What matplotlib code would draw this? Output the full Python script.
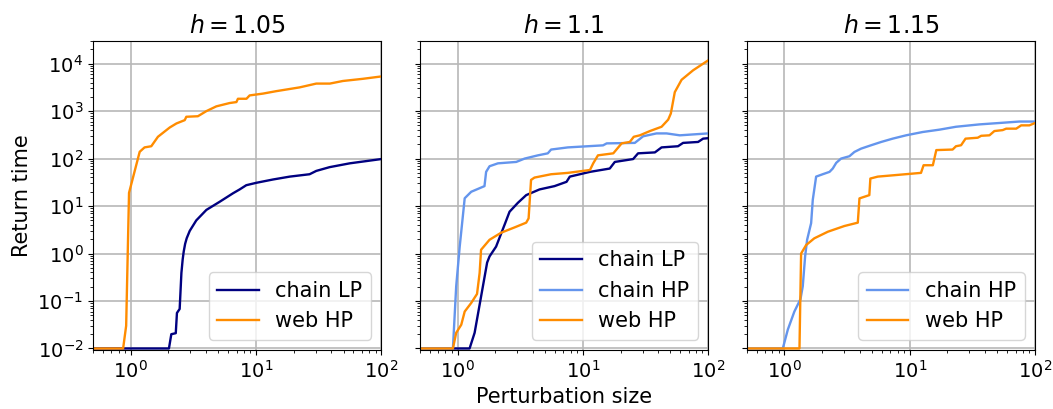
import matplotlib
matplotlib.use("Agg")
import matplotlib.pyplot as plt

# Return time vs. perturbation size for three values of h
titles = [r"$h = 1.05$", r"$h = 1.1$", r"$h = 1.15$"]

# h = 1.05
h105_chainLP_x = [0.5, 2.02, 2.11, 2.29, 2.34, 2.46, 2.54, 2.60, 2.65, 2.72, 2.80, 2.96, 3.34,
                  4.02, 5.13, 6.56, 7.41, 8.37, 10.07, 13.7, 18.6, 26.8, 30.3, 38.7, 56, 100]
h105_chainLP_y = [0.01, 0.01, 0.02, 0.021, 0.056, 0.068, 0.39, 0.75, 1.1, 1.6, 2.1, 3.0, 5.0,
                  8.3, 12.3, 18.6, 22.4, 27.5, 30.9, 36.3, 41.7, 46.8, 55, 66, 79.4, 97.7]
h105_webHP_x = [0.5, 0.87, 0.92, 0.97, 1.18, 1.29, 1.46, 1.65, 2.05, 2.32, 2.70, 2.78, 3.44,
                4.02, 4.83, 6.17, 6.98, 7.18, 8.4, 8.9, 11.4, 14.5, 22.3, 30.3, 38.9, 49.4,
                71.4, 100]
h105_webHP_y = [0.01, 0.01, 0.03, 19, 139, 172, 182, 288, 452, 550, 645, 760, 780,
                1000, 1260, 1480, 1550, 1820, 1820, 2140, 2340, 2630, 3160, 3800, 3800, 4310,
                4790, 5370]

# h = 1.1
h11_chainLP_x = [0.5, 1.247, 1.368, 1.542, 1.722, 1.80, 2.03, 2.40, 2.60, 3.03, 3.53, 4.51,
                 5.94, 7.41, 7.87, 11.4, 16.4, 18.0, 25.2, 27.6, 37.6, 42.5, 57.5, 63.1,
                 83.2, 91.2, 100]
h11_chainLP_y = [0.01, 0.01, 0.0214, 0.126, 0.646, 0.87, 1.40, 4.37, 7.6, 11.7, 17, 22.4,
                 26.3, 32.4, 41.7, 52.5, 61.7, 85, 97.7, 129, 135, 172, 182, 214,
                 224, 263, 269]
h11_chainHP_x = [0.5, 0.918, 0.975, 1.04, 1.14, 1.285, 1.64, 1.69, 1.80, 2.10, 2.94, 3.43,
                 4.38, 5.25, 5.58, 7.59, 14.5, 15.5, 26, 30.3, 38.7, 46.6, 59.4, 100]
h11_chainHP_y = [0.01, 0.01, 0.204, 1.40, 14.6, 20, 26.3, 52.5, 69, 79.4, 85, 100,
                 117, 129, 155, 172, 190, 209, 214, 295, 339, 339, 309, 339]
h11_webHP_x = [0.5, 0.918, 0.975, 1.07, 1.14, 1.285, 1.43, 1.50, 1.54, 1.80, 2.23, 2.85,
               3.53, 3.69, 3.86, 4.11, 5.58, 7.59, 11.4, 12.1, 13.2, 17.5, 20.4, 23.7,
               25.5, 28.5, 34.3, 42.5, 48, 50.4, 54.2, 61.4, 75.9, 100]
h11_webHP_y = [0.01, 0.01, 0.0214, 0.0316, 0.060, 0.091, 0.141, 0.39, 1.2, 1.95, 2.75, 3.55,
               4.47, 5.5, 35.5, 39.8, 46.8, 50, 57.5, 79.4, 117, 129, 209, 224,
               288, 309, 380, 468, 661, 891, 2510, 4570, 7240, 11700]

# h = 1.15
h115_chainHP_x = [0.5, 0.97, 1.064, 1.20, 1.343, 1.40, 1.462, 1.517, 1.633, 1.683, 1.79,
                  2.02, 2.29, 2.43, 2.59, 2.83, 3.30, 3.62, 4.09, 4.92, 5.92, 7.31, 9.35,
                  12.7, 17.3, 23.4, 36, 52, 75, 100]
h115_chainHP_y = [0.01, 0.01, 0.025, 0.060, 0.11, 0.204, 0.87, 1.95, 4.37, 13.5, 41.7,
                  46.8, 52.5, 61.7, 81.3, 100, 112, 138, 162, 191, 224, 263, 309,
                  363, 407, 468, 525, 562, 603, 603]
h115_webHP_x = [0.5, 1.318, 1.358, 1.49, 1.73, 2.22, 3.01, 3.85, 3.97, 4.76, 4.85, 5.56,
                7.55, 12.3, 12.9, 15.3, 16.3, 22.0, 23.4, 25.7, 27.9, 34.9, 37.2, 43.3,
                47.4, 55.2, 58.9, 70.8, 77.6, 90.2, 100]
h115_webHP_y = [0.01, 0.01, 1.0, 1.51, 2.09, 2.88, 3.80, 4.47, 14.5, 17, 38, 41.7,
                44.7, 50, 72.4, 72.4, 151, 155, 182, 191, 263, 275, 302, 309,
                380, 398, 427, 427, 501, 501, 562]

colors = {"chain LP": "navy", "chain HP": "cornflowerblue", "web HP": "darkorange"}

panels = [
    [("chain LP", h105_chainLP_x, h105_chainLP_y),
     ("web HP", h105_webHP_x, h105_webHP_y)],
    [("chain LP", h11_chainLP_x, h11_chainLP_y),
     ("chain HP", h11_chainHP_x, h11_chainHP_y),
     ("web HP", h11_webHP_x, h11_webHP_y)],
    [("chain HP", h115_chainHP_x, h115_chainHP_y),
     ("web HP", h115_webHP_x, h115_webHP_y)],
]

fig, axes = plt.subplots(1, 3, figsize=(10.53, 4.09), dpi=100, sharey=True)
fig.subplots_adjust(left=0.0883, right=0.9829, bottom=0.1443, top=0.8998, wspace=0.134)

for ax, title, series in zip(axes, titles, panels):
    for label, xs, ys in series:
        ax.plot(xs, ys, color=colors[label], lw=1.7, label=label)
    ax.set_xscale("log")
    ax.set_yscale("log")
    ax.set_xlim(0.5, 100)
    ax.set_ylim(0.0093, 3e4)
    ax.grid(True, which="major", color="#b8b8b8", lw=1.2)
    ax.set_title(title, fontsize=17)
    ax.tick_params(labelsize=14)
    ax.legend(loc="lower right", fontsize=15)

axes[0].set_ylabel("Return time", fontsize=15)
axes[1].set_xlabel("Perturbation size", fontsize=15)

fig.savefig("out.png", dpi=100)
